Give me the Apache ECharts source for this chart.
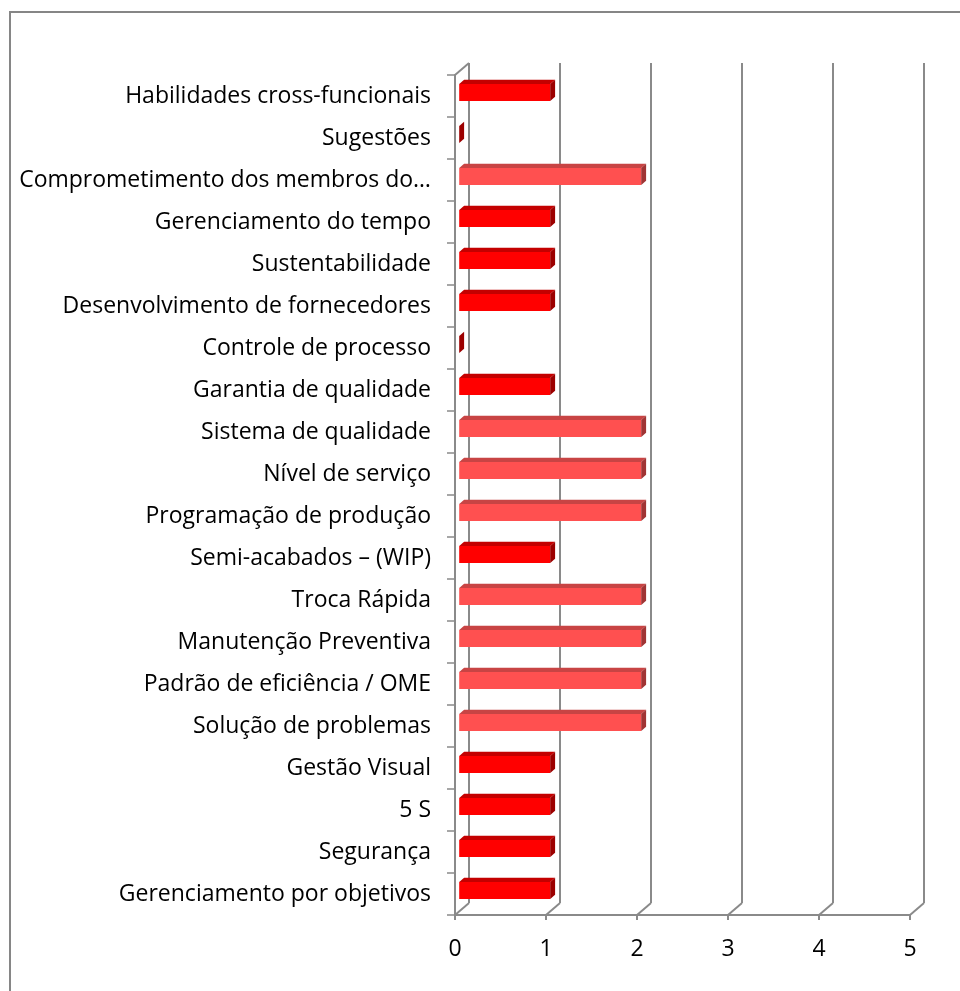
<!DOCTYPE html>
<html>
<head>
<meta charset="utf-8">
<script src="https://cdn.jsdelivr.net/npm/echarts@6/dist/echarts.min.js"></script>
<style>
html,body{margin:0;padding:0;background:#fff;}
#c{width:960px;height:991px;}
</style>
</head>
<body>
<div id="c"></div>
<script>
// Categories listed bottom to top (as the category axis draws them)
var categories = [
  "Gerenciamento por objetivos",
  "Segurança",
  "5 S",
  "Gestão Visual",
  "Solução de problemas",
  "Padrão de eficiência / OME",
  "Manutenção Preventiva",
  "Troca Rápida",
  "Semi-acabados – (WIP)",
  "Programação de produção",
  "Nível de serviço",
  "Sistema de qualidade",
  "Garantia de qualidade",
  "Controle de processo",
  "Desenvolvimento de fornecedores",
  "Sustentabilidade",
  "Gerenciamento do tempo",
  "Comprometimento dos membros do…",
  "Sugestões",
  "Habilidades cross-funcionais"
];
var values = [1, 1, 1, 1, 2, 2, 2, 2, 1, 2, 2, 2, 1, 0, 1, 1, 1, 2, 0, 1];
var xTicks = [0, 1, 2, 3, 4, 5];

var FONT = '"Open Sans"';
var GREY = '#8a8a8a';
var DX = 14, DY = -12;       // depth vector of the 3D box
var D1 = 0.3, D2 = 0.65;     // bar depth span (fraction)
var BAR_H = 17;

function shade(v) {
  if (v >= 2) return {front: '#FF5050', top: '#C84444', side: '#A03434'};
  return {front: '#FF0000', top: '#C40000', side: '#9C0000'};
}

var chart = echarts.init(document.getElementById('c'));
var option = {
  animation: false,
  backgroundColor: '#fff',
  graphic: [{
    type: 'rect', shape: {x: 10, y: 12, width: 1000, height: 1000},
    style: {fill: 'none', stroke: '#868686', lineWidth: 2}, z: 0
  }],
  grid: [
    {left: 455, right: 50, top: 75, bottom: 76},
    {left: 455 + DX, right: 50 - DX, top: 75 + DY, bottom: 76 - DY}
  ],
  xAxis: [{
    gridIndex: 0, type: 'value', min: 0, max: 5, interval: 1,
    axisLine: {show: true, lineStyle: {color: GREY, width: 2}},
    axisTick: {show: true, length: 5, lineStyle: {color: GREY, width: 2}},
    splitLine: {show: false},
    axisLabel: {color: '#000', fontFamily: FONT, fontSize: 23, margin: 23}
  }, {
    gridIndex: 1, type: 'value', min: 0, max: 5, interval: 1,
    axisLine: {show: false}, axisTick: {show: false}, axisLabel: {show: false},
    splitLine: {show: true, lineStyle: {color: GREY, width: 2}}
  }],
  yAxis: [{
    gridIndex: 0, type: 'category', data: categories,
    axisLine: {show: true, lineStyle: {color: GREY, width: 2}},
    axisTick: {show: true, length: 8, alignWithLabel: false, lineStyle: {color: GREY, width: 1.5}},
    axisLabel: {color: '#000', fontFamily: FONT, fontSize: 23, margin: 24, interval: 0}
  }, {
    gridIndex: 1, type: 'category', data: categories,
    axisLine: {show: false}, axisTick: {show: false}, axisLabel: {show: false},
    splitLine: {show: false}
  }],
  series: [{
    // floor diagonals and wall top edge
    type: 'custom', xAxisIndex: 0, yAxisIndex: 0, z: 1,
    data: xTicks.map(function (t) { return [t]; }),
    renderItem: function (params, api) {
      var cs = params.coordSys;
      var p = api.coord([api.value(0), 0]);
      var yb = cs.y + cs.height;
      var children = [{
        type: 'line',
        shape: {x1: p[0], y1: yb, x2: p[0] + DX, y2: yb + DY},
        style: {stroke: GREY, lineWidth: 2}
      }];
      if (params.dataIndex === 0) {
        children.push({
          type: 'line',
          shape: {x1: p[0], y1: cs.y, x2: p[0] + DX, y2: cs.y + DY},
          style: {stroke: GREY, lineWidth: 2}
        });
      }
      return {type: 'group', children: children};
    }
  }, {
    type: 'custom', xAxisIndex: 0, yAxisIndex: 0, z: 5,
    data: values.map(function (v, i) { return [v, i]; }),
    renderItem: function (params, api) {
      var v = api.value(0), idx = api.value(1);
      var c0 = api.coord([0, idx]);
      var c1 = api.coord([v, idx]);
      var col = shade(v);
      var x0 = c0[0] + D1 * DX, x1 = c1[0] + D1 * DX;
      var yc = c0[1] + D1 * DY;
      var yt = yc - BAR_H / 2, yb = yc + BAR_H / 2;
      var ddx = (D2 - D1) * DX, ddy = (D2 - D1) * DY;
      var children = [];
      if (v > 0) {
        children.push({type: 'rect', shape: {x: x0, y: yt, width: x1 - x0, height: BAR_H},
          style: {fill: col.front}});
        children.push({type: 'polygon', shape: {points: [[x0, yt], [x1, yt], [x1 + ddx, yt + ddy], [x0 + ddx, yt + ddy]]},
          style: {fill: col.top}});
      }
      children.push({type: 'polygon', shape: {points: [[x1, yt], [x1, yb], [x1 + ddx, yb + ddy], [x1 + ddx, yt + ddy]]},
        style: {fill: col.side}});
      return {type: 'group', children: children};
    }
  }]
};
chart.setOption(option);
</script>
</body>
</html>
